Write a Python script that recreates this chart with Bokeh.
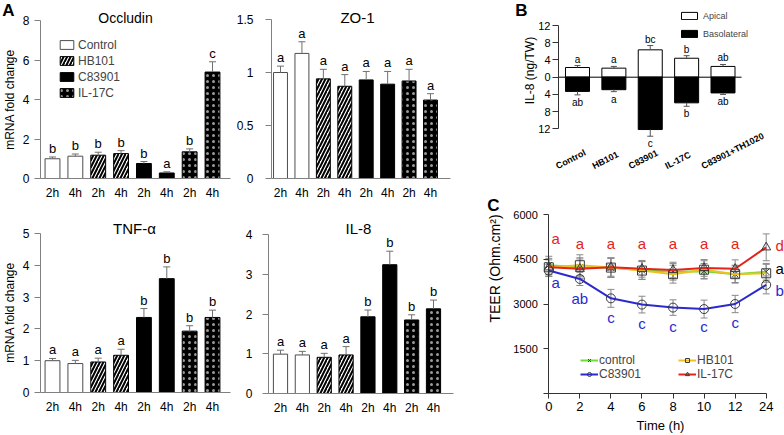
import math
from bokeh.plotting import figure
from bokeh.models import (ColumnDataSource, Range1d, FixedTicker, Whisker, TeeHead, Label,
                          Legend, LegendItem, NumeralTickFormatter)
from bokeh.layouts import row, column
from bokeh.embed import file_html
from bokeh.resources import INLINE
from bokeh.core.properties import value

FONT = "Liberation Sans"

# ---------------- Panel A data ----------------
groups = ["Control", "HB101", "C83901", "IL-17C"]
timepoints = ["2h", "4h", "2h", "4h", "2h", "4h", "2h", "4h"]

occludin_mean = [1.00, 1.13, 1.18, 1.26, 0.76, 0.28, 1.35, 5.39]
occludin_err = [0.09, 0.11, 0.15, 0.15, 0.10, 0.06, 0.15, 0.52]
occludin_letters = ["b", "b", "b", "b", "b", "a", "b", "c"]

zo1_mean = [1.00, 1.18, 0.94, 0.87, 0.93, 0.89, 0.92, 0.74]
zo1_err = [0.06, 0.11, 0.09, 0.11, 0.08, 0.12, 0.11, 0.06]
zo1_letters = ["a", "a", "a", "a", "a", "a", "a", "a"]

tnf_mean = [1.00, 0.91, 0.96, 1.17, 2.36, 3.58, 1.93, 2.36]
tnf_err = [0.07, 0.10, 0.12, 0.19, 0.28, 0.37, 0.17, 0.23]
tnf_letters = ["a", "a", "a", "a", "b", "b", "b", "b"]

il8_mean = [0.99, 0.97, 0.91, 0.97, 1.93, 3.24, 1.85, 2.13]
il8_err = [0.10, 0.09, 0.10, 0.21, 0.17, 0.34, 0.13, 0.22]
il8_letters = ["a", "a", "a", "a", "b", "b", "b", "b"]

# ---------------- Panel B data ----------------
b_groups = ["Control", "HB101", "C83901", "IL-17C", "C83901+TH1020"]
apical_mean = [2.25, 2.10, 6.35, 4.40, 2.50]
apical_err = [0.45, 0.40, 1.00, 0.60, 0.45]
baso_mean = [3.30, 2.90, 12.15, 5.95, 3.65]
baso_err = [0.80, 0.45, 1.55, 0.80, 0.35]
apical_letters = ["a", "a", "bc", "b", "ab"]
baso_letters = ["ab", "a", "c", "b", "ab"]

# ---------------- Panel C data ----------------
time_labels = ["0", "2", "4", "6", "8", "10", "12", "24"]
control_teer = [4300, 4230, 4220, 4130, 4080, 4100, 4000, 4080]
control_err = [300, 320, 330, 300, 280, 260, 280, 280]
hb101_teer = [4230, 4300, 4220, 4120, 4000, 4150, 4000, 4030]
hb101_err = [250, 350, 320, 300, 300, 300, 300, 300]
c83901_teer = [4120, 3840, 3190, 2980, 2880, 2830, 3000, 3640]
c83901_err = [200, 220, 300, 280, 260, 300, 290, 300]
il17c_teer = [4230, 4180, 4230, 4180, 4140, 4210, 4180, 4900]
il17c_err = [300, 330, 300, 280, 260, 280, 300, 450]
il17c_letters = ["a", "a", "a", "a", "a", "a", "a", "d"]
c83901_letters = ["a", "ab", "c", "c", "c", "c", "c", "b"]
control_letter_24 = "a"

# ---------------- layout geometry (page pixels) ----------------
SX = 1.0
SY = 1.0


def PX(rx):
    return rx * SX


def PY(ry):
    return ry * SY


class Frame:
    def __init__(self, L, T, W, H, xa, ya):
        self.L, self.T, self.W, self.H = L, T, W, H
        v1, r1, v2, r2 = xa
        self.px1, self.xv1 = PX(r1), v1
        self.kx = (PX(r2) - PX(r1)) / (v2 - v1)
        v1, r1, v2, r2 = ya
        self.py1, self.yv1 = PY(r1), v1
        self.ky = (PY(r1) - PY(r2)) / (v2 - v1)

    def x(self, rx):
        return self.xv1 + (PX(rx) - self.px1) / self.kx

    def y(self, ry):
        return self.yv1 + (self.py1 - PY(ry)) / self.ky

    def xr(self):
        return Range1d(self.xv1 + (self.L - self.px1) / self.kx,
                       self.xv1 + (self.L + self.W - self.px1) / self.kx)

    def yr(self):
        return Range1d(self.yv1 - (self.T + self.H - self.py1) / self.ky,
                       self.yv1 + (self.py1 - self.T) / self.ky)

    def sx(self, rx):
        return PX(rx) - self.L

    def sy(self, ry):
        return self.T + self.H - PY(ry)


def base_fig(fr):
    p = figure(width=fr.W, height=fr.H, x_range=fr.xr(), y_range=fr.yr(), title=None,
               output_backend="svg", toolbar_location=None, tools="",
               min_border=0, min_border_left=0, min_border_right=0,
               min_border_top=0, min_border_bottom=0)
    p.outline_line_color = None
    p.grid.visible = False
    p.background_fill_color = "white"
    p.border_fill_color = "white"
    for ax in p.axis:
        ax.minor_tick_line_color = None
        ax.major_label_text_font = FONT
        ax.axis_label_text_font = FONT
        ax.major_label_text_color = "black"
    return p


def add_label(p, fr, rx, ry, text, size, bold=False, angle=0.0, color="black"):
    p.add_layout(Label(x=fr.sx(rx), y=fr.sy(ry), x_units="screen", y_units="screen",
                       text=text, text_align="center", text_baseline="middle", angle=angle,
                       text_font=FONT, text_font_size=size, text_color=color,
                       text_font_style="bold" if bold else "normal"))


bar_styles = {
    "Control": dict(fill_color="white", line_color="#4d4d4d"),
    "HB101": dict(fill_color="white", line_color="black", hatch_pattern="/",
                  hatch_color="black", hatch_scale=7, hatch_weight=2),
    "C83901": dict(fill_color="black", line_color="black"),
    "IL-17C": dict(fill_color="black", line_color="black", hatch_pattern=".",
                   hatch_color="white", hatch_scale=6, hatch_weight=1, hatch_alpha=0.6),
}


def bar_panel(fr, title, title_ref, title_size, means, errs, letters, ymax, yticks, axis_rx,
              right_rx, standoff, legend_ref=None, ylabel_ref=None):
    p = base_fig(fr)
    rends = []
    for gi, g in enumerate(groups):
        idx = [2 * gi, 2 * gi + 1]
        src = ColumnDataSource(dict(x=idx, top=[means[i] for i in idx]))
        r = p.vbar(x="x", top="top", bottom=0, width=0.65, source=src, line_width=1, **bar_styles[g])
        rends.append(r)
    xs = list(range(len(means)))
    hi = [m + e for m, e in zip(means, errs)]
    esrc = ColumnDataSource(dict(x=xs, lo=means, hi=hi, lab=letters))
    p.add_layout(Whisker(base="x", lower="lo", upper="hi", source=esrc, dimension="height",
                         line_color="#707070", line_width=1, lower_head=None,
                         upper_head=TeeHead(size=7, line_color="#707070", line_width=1),
                         level="overlay"))
    p.text(x="x", y="hi", text="lab", source=esrc, text_align="center", text_baseline="bottom",
           y_offset=-1, text_font=value(FONT), text_font_size="13px", text_color="black")
    xa = p.xaxis[0]
    xa.fixed_location = 0
    xa.bounds = (fr.x(axis_rx), fr.x(right_rx))
    xa.ticker = FixedTicker(ticks=xs)
    xa.major_label_overrides = {i: t for i, t in enumerate(timepoints)}
    xa.major_tick_out = 0
    xa.major_tick_in = 0
    xa.axis_line_color = "#808080"
    xa.major_label_text_font_size = "12px"
    xa.major_label_standoff = 7
    ya = p.yaxis[0]
    ya.fixed_location = fr.x(axis_rx)
    ya.ticker = FixedTicker(ticks=yticks)
    ya.formatter = NumeralTickFormatter(format="0.[0]")
    ya.bounds = (0, ymax)
    ya.axis_line_color = "#808080"
    ya.major_tick_line_color = "#808080"
    ya.major_tick_out = 6
    ya.major_tick_in = 0
    ya.major_label_standoff = standoff
    ya.major_label_text_font_size = "12px"
    add_label(p, fr, title_ref[0], title_ref[1], title, title_size)
    if ylabel_ref is not None:
        add_label(p, fr, ylabel_ref[0], ylabel_ref[1], "mRNA fold change", "12px",
                  angle=math.pi / 2)
    if legend_ref is not None:
        row_h, gap = 15, 1
        top = PY(legend_ref[1])
        bottom = top + 4 * row_h + 3 * gap
        lg = Legend(items=[LegendItem(label=g, renderers=[r]) for g, r in zip(groups, rends)],
                    location=(fr.sx(legend_ref[0]), fr.T + fr.H - bottom),
                    glyph_width=17, glyph_height=11, label_height=row_h, label_standoff=3,
                    spacing=gap, padding=0, margin=0, border_line_color=None,
                    background_fill_alpha=0, label_text_font=FONT, label_text_font_size="12px")
        p.add_layout(lg)
    return p


fr_occ = Frame(0, 0, 236, 213, (0, 52, 7, 212), (0, 178, 8, 20))
occ = bar_panel(fr_occ, "Occludin", (125, 17), "14px", occludin_mean, occludin_err,
                occludin_letters, 8, [0, 2, 4, 6, 8], 40, 230, 5, legend_ref=(58, 37),
                ylabel_ref=(9, 99))
add_label(occ, fr_occ, 8, 10, "A", "17px", bold=True)

fr_zo1 = Frame(236, 0, 234, 213, (0, 280, 7, 430), (0, 178, 1.5, 19))
zo1 = bar_panel(fr_zo1, "ZO-1", (357, 17), "15px", zo1_mean, zo1_err, zo1_letters,
                1.5, [0, 0.5, 1, 1.5], 271, 450, 12)

fr_tnf = Frame(0, 213, 236, 222, (0, 52, 7, 212), (0, 392, 5, 233))
tnf = bar_panel(fr_tnf, "TNF-α", (134, 228), "15px", tnf_mean, tnf_err, tnf_letters,
                5, [0, 1, 2, 3, 4, 5], 40, 230, 5, ylabel_ref=(9, 312))

fr_il8 = Frame(236, 213, 234, 222, (0, 280, 7, 433), (0, 393, 4, 234))
il8 = bar_panel(fr_il8, "IL-8", (358, 228), "15px", il8_mean, il8_err, il8_letters,
                4, [0, 1, 2, 3, 4], 268, 453, 10)

# ---------------- Panel B ----------------
fr_b = Frame(470, 0, 314, 195, (0, 577, 4, 722.5), (0, 76.7, 12, 25))
bp = base_fig(fr_b)
bx = list(range(len(b_groups)))
bsrc = ColumnDataSource(dict(x=bx, ap=apical_mean, bs=[-v for v in baso_mean],
                             ap_hi=[m + e for m, e in zip(apical_mean, apical_err)],
                             bs_lo=[-(m + e) for m, e in zip(baso_mean, baso_err)],
                             apl=apical_letters, bsl=baso_letters))
r_ap = bp.vbar(x="x", top="ap", bottom=0, width=0.66, source=bsrc, fill_color="white",
               line_color="black", line_width=1)
r_bs = bp.vbar(x="x", top=0, bottom="bs", width=0.66, source=bsrc, fill_color="black",
               line_color="black", line_width=1)
bp.segment(x0=fr_b.x(558), y0=0, x1=fr_b.x(741), y1=0, line_color="black", line_width=1)
bp.add_layout(Whisker(base="x", lower="ap", upper="ap_hi", source=bsrc, dimension="height",
                      line_color="#555555", lower_head=None,
                      upper_head=TeeHead(size=6, line_color="#555555"), level="overlay"))
bp.add_layout(Whisker(base="x", lower="bs_lo", upper="bs", source=bsrc, dimension="height",
                      line_color="#555555", upper_head=None,
                      lower_head=TeeHead(size=6, line_color="#555555"), level="overlay"))
bp.text(x="x", y="ap_hi", text="apl", source=bsrc, text_align="center", text_baseline="bottom",
        y_offset=-1, text_font=value(FONT), text_font_size="10px")
bp.text(x="x", y="bs_lo", text="bsl", source=bsrc, text_align="center", text_baseline="top",
        y_offset=2, text_font=value(FONT), text_font_size="10px")
lab_dx = -21 * SX / fr_b.kx
bp.text(x=[v + lab_dx for v in bx], y=[fr_b.y(166)] * len(bx), text=b_groups, angle=0.47,
        text_align="left", text_baseline="alphabetic", text_font=value(FONT),
        text_font_size="9px", text_font_style="bold")
bp.xaxis.visible = False
bya = bp.yaxis[0]
bya.fixed_location = fr_b.x(558)
bya.ticker = FixedTicker(ticks=[-12, -8, -4, 0, 4, 8, 12])
bya.major_label_overrides = {-12: "12", -8: "8", -4: "4"}
bya.bounds = (-12, 12)
bya.axis_line_color = "#333333"
bya.major_tick_line_color = "#333333"
bya.major_tick_out = 6
bya.major_tick_in = 0
bya.major_label_standoff = 2
bya.major_label_text_font_size = "11px"
add_label(bp, fr_b, 529, 70, "IL-8 (ng/TW)", "12px", angle=math.pi / 2)
add_label(bp, fr_b, 521, 10, "B", "17px", bold=True)
b_row_h, b_gap = 11, 7
b_bottom = PY(10) + 2 * b_row_h + b_gap
blg = Legend(items=[LegendItem(label="Apical", renderers=[r_ap]),
                    LegendItem(label="Basolateral", renderers=[r_bs])],
             location=(fr_b.sx(679), fr_b.T + fr_b.H - b_bottom),
             glyph_width=20, glyph_height=9, label_height=b_row_h, label_standoff=4,
             spacing=b_gap, padding=0, margin=0, border_line_color=None,
             background_fill_alpha=0, label_text_font=FONT, label_text_font_size="9px")
bp.add_layout(blg)

# ---------------- Panel C ----------------
fr_c = Frame(470, 195, 314, 240, (0, 548.3, 7, 765.7), (0, 393, 6000, 214))
cp = base_fig(fr_c)
cx = list(range(len(time_labels)))
series = [
    ("control", control_teer, control_err, "#6fdc3a", "x"),
    ("HB101", hb101_teer, hb101_err, "#f0c020", "square"),
    ("C83901", c83901_teer, c83901_err, "#2a2ad0", "circle"),
    ("IL-17C", il17c_teer, il17c_err, "#e4231b", "triangle"),
]
items = {}
for name, vals, errs, col, mk in series:
    s = ColumnDataSource(dict(x=cx, y=vals, lo=[v - e for v, e in zip(vals, errs)],
                              hi=[v + e for v, e in zip(vals, errs)]))
    cp.add_layout(Whisker(base="x", lower="lo", upper="hi", source=s, dimension="height",
                          line_color="#8a8a8a", line_width=1,
                          lower_head=TeeHead(size=7, line_color="#8a8a8a"),
                          upper_head=TeeHead(size=7, line_color="#8a8a8a"), level="underlay"))
    lr = cp.line(x="x", y="y", source=s, line_color=col, line_width=2)
    sr = cp.scatter(x="x", y="y", source=s, marker=mk, size=9, fill_color=None,
                    line_color="#3a3a3a", line_width=1)
    items[name] = [lr, sr]

red_dx = [0.22, 0, 0, 0, 0, 0, 0, 0.43]
red_dy = [960, 850, 800, 850, 880, 820, 850, 60]
blue_dx = [0.22, 0, 0, 0, 0, 0, 0, 0.43]
blue_dy = [-400, -650, -650, -620, -620, -600, -620, -190]
cp.text(x=[x + d for x, d in zip(cx, red_dx)], y=[v + d for v, d in zip(il17c_teer, red_dy)],
        text=il17c_letters, text_align="center", text_baseline="middle",
        text_font=value(FONT), text_font_size="15px", text_color="#e4231b")
cp.text(x=[x + d for x, d in zip(cx, blue_dx)], y=[v + d for v, d in zip(c83901_teer, blue_dy)],
        text=c83901_letters, text_align="center", text_baseline="middle",
        text_font=value(FONT), text_font_size="15px", text_color="#2a2ad0")
cp.text(x=[cx[-1] + 0.43], y=[control_teer[-1] + 110], text=[control_letter_24],
        text_align="center", text_baseline="middle", text_font=value(FONT),
        text_font_size="15px", text_color="black")

cxa = cp.xaxis[0]
cxa.fixed_location = 0
cxa.ticker = FixedTicker(ticks=cx)
cxa.major_label_overrides = {i: t for i, t in enumerate(time_labels)}
cxa.bounds = (0, len(cx) - 1)
cxa.axis_line_color = "#333333"
cxa.major_tick_line_color = "#333333"
cxa.major_tick_out = 5
cxa.major_tick_in = 0
cxa.major_label_standoff = 3
cxa.major_label_text_font_size = "13px"
cya = cp.yaxis[0]
cya.fixed_location = 0
cya.ticker = FixedTicker(ticks=[0, 1500, 3000, 4500, 6000])
cya.major_label_overrides = {0: ""}
cya.bounds = (0, 6000)
cya.axis_line_color = "#333333"
cya.major_tick_line_color = "#333333"
cya.major_tick_out = 5
cya.major_tick_in = 0
cya.major_label_standoff = 6
cya.major_label_text_font_size = "11px"
add_label(cp, fr_c, 660, 425, "Time (h)", "13px")
add_label(cp, fr_c, 494, 268, "TEER (Ohm.cm²)", "14px", angle=math.pi / 2)
add_label(cp, fr_c, 493, 205, "C", "17px", bold=True)

c_row_h = 10
c_bottom = PY(361) + 2 * c_row_h
common_lg = dict(glyph_width=18, glyph_height=10, label_height=c_row_h, label_standoff=1,
                 spacing=0, padding=0, margin=0, border_line_color=None,
                 background_fill_alpha=0, label_text_font=FONT, label_text_font_size="12px")
lg1 = Legend(items=[LegendItem(label="control", renderers=items["control"]),
                    LegendItem(label="C83901", renderers=items["C83901"])],
             location=(fr_c.sx(580), fr_c.T + fr_c.H - c_bottom), **common_lg)
lg2 = Legend(items=[LegendItem(label="HB101", renderers=items["HB101"]),
                    LegendItem(label="IL-17C", renderers=items["IL-17C"])],
             location=(fr_c.sx(678), fr_c.T + fr_c.H - c_bottom), **common_lg)
cp.add_layout(lg1)
cp.add_layout(lg2)

layout = row(column(row(occ, zo1), row(tnf, il8)), column(bp, cp))

with open("out.html", "w") as f:
    f.write(file_html(layout, INLINE))
